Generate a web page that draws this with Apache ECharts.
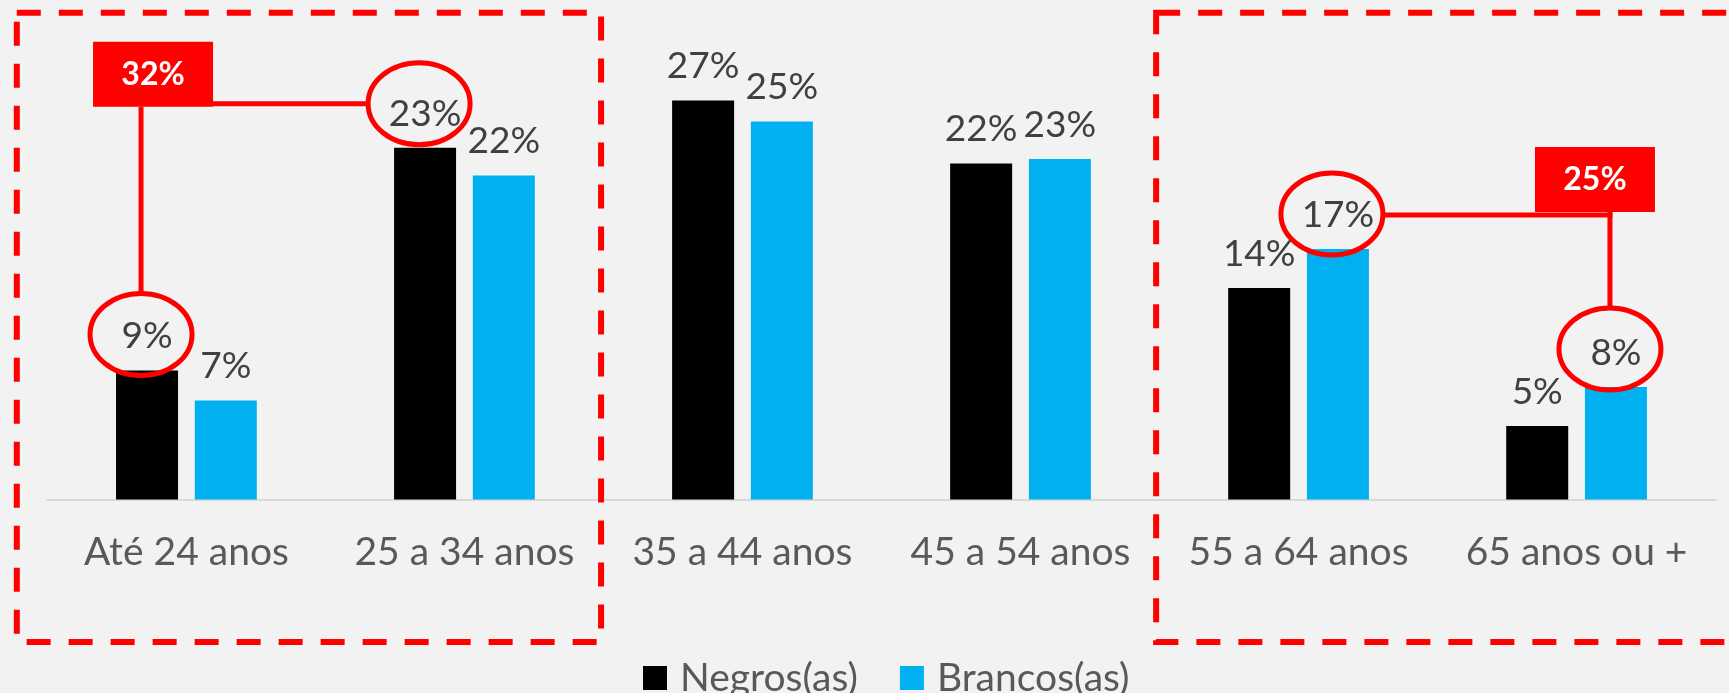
<!DOCTYPE html>
<html>
<head>
<meta charset="utf-8">
<script src="https://cdn.jsdelivr.net/npm/echarts@6/dist/echarts.min.js"></script>
<style>
html,body{margin:0;padding:0;background:#F2F2F2;}
#chart{width:1729px;height:693px;}
</style>
</head>
<body>
<div id="chart"></div>
<script>
// ---- data ----
const categories = ['Até 24 anos', '25 a 34 anos', '35 a 44 anos', '45 a 54 anos', '55 a 64 anos', '65 anos ou +'];
const seriesNames = ['Negros(as)', 'Brancos(as)'];
const negros  = [8.6, 23.45, 26.6, 22.4, 14.1, 4.9];
const brancos = [6.6, 21.6, 25.2, 22.7, 16.7, 7.5];
// highlighted labels: [seriesIndex, categoryIndex]
const highlightLeft  = [[0, 0], [0, 1]];
const highlightRight = [[1, 4], [1, 5]];
// categories enclosed by dashed frames: [firstCat, lastCat]
const frameLeft = [0, 1];
const frameRight = [4, 5];

const seriesData = [negros, brancos];
const colors = ['#000000', '#00B0F0'];
const FONT = 'Lato';

const chart = echarts.init(document.getElementById('chart'), null, {renderer: 'canvas'});

const BAR_W = 0.223, BAR_GAP = 0.27;

const option = {
  backgroundColor: '#F2F2F2',
  animation: false,
  grid: {left: 47.4, right: 13.4, top: 49.5, bottom: 193.5, containLabel: false},
  xAxis: {
    type: 'category',
    data: categories,
    axisLine: {show: true, lineStyle: {color: '#D9D9D9', width: 2}},
    axisTick: {show: false},
    axisLabel: {interval: 0, hideOverlap: false, color: '#595959', fontFamily: FONT, fontSize: 39, margin: 31, lineHeight: 44}
  },
  yAxis: {type: 'value', min: 0, max: 30, show: false, splitLine: {show: false}},
  legend: {
    left: 638, top: 653,
    itemWidth: 24, itemHeight: 24, itemGap: 42,
    icon: 'rect',
    textStyle: {color: '#595959', fontFamily: FONT, fontSize: 39, lineHeight: 40, padding: [0, 0, 0, 8]},
    data: seriesNames
  },
  series: seriesNames.map((n, si) => ({
    name: n,
    type: 'bar',
    data: seriesData[si],
    barWidth: (BAR_W * 100) + '%',
    barGap: (BAR_GAP * 100) + '%',
    itemStyle: {color: colors[si]},
    label: {
      show: true, position: 'top', distance: 15.5,
      color: '#404040', fontFamily: FONT, fontSize: 37, lineHeight: 37,
      formatter: p => Math.round(p.value) + '%'
    }
  }))
};
chart.setOption(option);

// ---- annotations positioned from the axes ----
function catCenter(i) { return chart.convertToPixel({xAxisIndex: 0}, i); }
const band = catCenter(1) - catCenter(0);
function barCenter(si, ci) {
  const w = band * BAR_W, g = w * BAR_GAP;
  const off = (w + g) / 2;
  return catCenter(ci) + (si === 0 ? -off : off);
}
function barTop(si, ci) { return chart.convertToPixel({yAxisIndex: 0}, seriesData[si][ci]); }
const RX = 51, RY = 41;
// ellipse lift above each highlighted bar (annotation placement)
const ellipseLift = [36, 44, 35, 38];
function ell(h, k) {
  return {cx: barCenter(h[0], h[1]) - 6, cy: barTop(h[0], h[1]) - ellipseLift[k], val: Math.round(seriesData[h[0]][h[1]])};
}
const RED = '#FF0000';
const graphics = [];
function addEllipse(e) {
  graphics.push({type: 'ellipse', shape: {cx: e.cx, cy: e.cy, rx: RX, ry: RY},
    style: {fill: 'none', stroke: RED, lineWidth: 5}, z: 100});
}
function addLine(x1, y1, x2, y2) {
  graphics.push({type: 'line', shape: {x1, y1, x2, y2}, style: {stroke: RED, lineWidth: 5}, z: 100});
}
function addBox(x, y, w, h, txt) {
  graphics.push({type: 'rect', shape: {x, y, width: w, height: h}, style: {fill: RED}, z: 101});
  graphics.push({type: 'text', x: x + w / 2, y: y + h / 2,
    style: {text: txt, fill: '#FFFFFF', font: 'bold 32px ' + FONT, align: 'center', verticalAlign: 'middle'}, z: 102});
}
function addFrame(x1, y1, x2, y2) {
  graphics.push({type: 'rect', shape: {x: x1, y: y1, width: x2 - x1, height: y2 - y1},
    style: {fill: 'none', stroke: RED, lineWidth: 6, lineDash: [24, 18]}, z: 90});
}

// left group
const e0 = ell(highlightLeft[0], 0), e1 = ell(highlightLeft[1], 1);
addEllipse(e0); addEllipse(e1);
const bL = {x: e0.cx - 48, bottom: e1.cy + 3};
addLine(e0.cx, bL.bottom, e0.cx, e0.cy - RY);
addLine(bL.x + 120, e1.cy, e1.cx - RX, e1.cy);
addBox(bL.x, bL.bottom - 65, 120, 65, (e0.val + e1.val) + '%');

// right group
const e2 = ell(highlightRight[0], 2), e3 = ell(highlightRight[1], 3);
addEllipse(e2); addEllipse(e3);
const bR = {x: e3.cx - 75, bottom: e2.cy - 2};
addLine(e3.cx, bR.bottom, e3.cx, e3.cy - RY);
addLine(e2.cx + RX, e2.cy + 1, e3.cx + 2.5, e2.cy + 1);
addBox(bR.x, bR.bottom - 65, 120, 65, (e2.val + e3.val) + '%');

// dashed frames
const axisY = chart.convertToPixel({yAxisIndex: 0}, 0);
const frameTop = 12.7, frameBottom = axisY + 142.5;
addFrame(catCenter(frameLeft[0]) - band / 2 - 30.6, frameTop, catCenter(frameLeft[1]) + band / 2 - 2.4, frameBottom);
addFrame(catCenter(frameRight[0]) - band / 2 - 3.4, frameTop, catCenter(frameRight[1]) + band / 2 + 40, frameBottom);

chart.setOption({graphic: {elements: graphics}});
</script>
</body>
</html>
